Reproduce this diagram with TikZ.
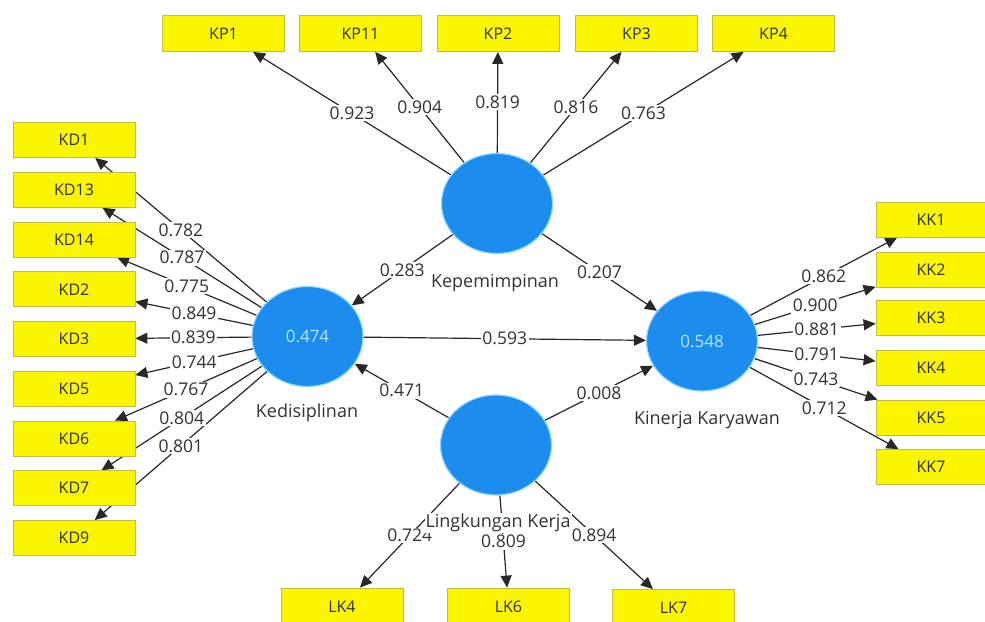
\documentclass[tikz,border=0pt]{standalone}
\usepackage{fontspec}
\setmainfont{Open Sans}
\usetikzlibrary{shapes.geometric,arrows.meta}
\pgfdeclarelayer{bg}
\pgfdeclarelayer{toplayer}
\pgfsetlayers{bg,main,toplayer}
\definecolor{boxfill}{RGB}{250,246,0}
\definecolor{boxedge}{RGB}{195,190,70}
\definecolor{latfill}{RGB}{28,140,238}
\definecolor{latedge}{RGB}{140,215,255}
\definecolor{lattxt}{RGB}{175,232,255}
\definecolor{txt}{RGB}{50,50,50}
\definecolor{linecol}{RGB}{40,40,40}
\newcommand{\plslink}[3]{%
  \begin{pgfonlayer}{bg}\draw[con] (#1) -- (#2) coordinate[midway] (m#1#2);\end{pgfonlayer}%
  \node[val] at (m#1#2) {#3};}
\begin{document}
\begin{tikzpicture}[x=1pt,y=-1pt,
  ind/.style={rectangle, draw=boxedge, line width=0.8pt, fill=boxfill,
    minimum width=122pt, minimum height=36pt, inner sep=0pt, text=txt,
    font=\fontsize{16}{16}\selectfont},
  indr/.style={ind, minimum width=110pt},
  lat/.style={ellipse, fill=latfill, draw=latedge, line width=1.2pt,
    minimum width=111pt, minimum height=100pt, inner sep=0pt, text=lattxt,
    font=\fontsize{17}{17}\selectfont},
  con/.style={draw=linecol, line width=1.2pt, -{Triangle[length=12pt,width=11pt]}},
  val/.style={fill=white, inner sep=1.5pt, text=txt, font=\fontsize{17.5}{17.5}\selectfont},
  latname/.style={fill=white, inner sep=1pt, text=txt, font=\fontsize{18}{18}\selectfont}]
\useasboundingbox (0,0) rectangle (985,621);
\begin{pgfonlayer}{bg}
\fill[white] (0,0) rectangle (985,621);
\end{pgfonlayer}
% latent variables
\node[lat] (KPL) at (497,203.5) {};
\node[lat] (KDS) at (307.5,336.5) {0.474};
\node[lat] (KIN) at (702,341) {0.548};
\node[lat] (LKE) at (496,445) {};
% top indicators
\node[ind] (KP1) at (223.5,33.5) {KP1};
\node[ind] (KP11) at (360.5,33.5) {KP11};
\node[ind] (KP2) at (498,33.5) {KP2};
\node[ind] (KP3) at (636.5,33.5) {KP3};
\node[ind] (KP4) at (773.5,33.5) {KP4};
% left indicators
\node[ind, minimum height=35pt] (KD1) at (74,140) {KD1};
\node[ind, minimum height=35pt] (KD13) at (74,189.75) {KD13};
\node[ind, minimum height=35pt] (KD14) at (74,239.5) {KD14};
\node[ind, minimum height=35pt] (KD2) at (74,289.25) {KD2};
\node[ind, minimum height=35pt] (KD3) at (74,339) {KD3};
\node[ind, minimum height=35pt] (KD5) at (74,388.75) {KD5};
\node[ind, minimum height=35pt] (KD6) at (74,438.5) {KD6};
\node[ind, minimum height=35pt] (KD7) at (74,488.25) {KD7};
\node[ind, minimum height=35pt] (KD9) at (74,538) {KD9};
% right indicators
\node[indr, minimum height=35pt] (KK1) at (931,219.5) {KK1};
\node[indr, minimum height=35pt] (KK2) at (931,269.5) {KK2};
\node[indr, minimum height=35pt] (KK3) at (931,318) {KK3};
\node[indr, minimum height=35pt] (KK4) at (931,367.5) {KK4};
\node[indr, minimum height=35pt] (KK5) at (931,417.5) {KK5};
\node[indr, minimum height=35pt] (KK7) at (931,467) {KK7};
% bottom indicators
\node[ind, minimum height=37pt] (LK4) at (342,606.5) {LK4};
\node[ind, minimum height=37pt] (LK6) at (508.5,606.5) {LK6};
\node[ind, minimum height=37pt] (LK7) at (673.5,608) {LK7};
% outer loadings
\plslink{KPL}{KP1}{0.923}
\plslink{KPL}{KP11}{0.904}
\plslink{KPL}{KP2}{0.819}
\plslink{KPL}{KP3}{0.816}
\plslink{KPL}{KP4}{0.763}
\plslink{KDS}{KD1}{0.782}
\plslink{KDS}{KD13}{0.787}
\plslink{KDS}{KD14}{0.775}
\plslink{KDS}{KD2}{0.849}
\plslink{KDS}{KD3}{0.839}
\plslink{KDS}{KD5}{0.744}
\plslink{KDS}{KD6}{0.767}
\plslink{KDS}{KD7}{0.804}
\plslink{KDS}{KD9}{0.801}
\plslink{KIN}{KK1}{0.862}
\plslink{KIN}{KK2}{0.900}
\plslink{KIN}{KK3}{0.881}
\plslink{KIN}{KK4}{0.791}
\plslink{KIN}{KK5}{0.743}
\plslink{KIN}{KK7}{0.712}
\plslink{LKE}{LK4}{0.724}
\plslink{LKE}{LK6}{0.809}
\plslink{LKE}{LK7}{0.894}
% structural paths
\plslink{KPL}{KDS}{0.283}
\plslink{KPL}{KIN}{0.207}
\plslink{KDS}{KIN}{0.593}
\plslink{LKE}{KDS}{0.471}
\plslink{LKE}{KIN}{0.008}
% construct names
\begin{pgfonlayer}{toplayer}
\node[latname] (nKPL) at (495,283) {Kepemimpinan};
\node[latname] (nKDS) at (307,413) {Kedisiplinan};
\node[latname] (nKIN) at (707,420) {Kinerja Karyawan};
\node[latname] (nLKE) at (498,523) {Lingkungan Kerja};
\end{pgfonlayer}
\end{tikzpicture}
\end{document}
